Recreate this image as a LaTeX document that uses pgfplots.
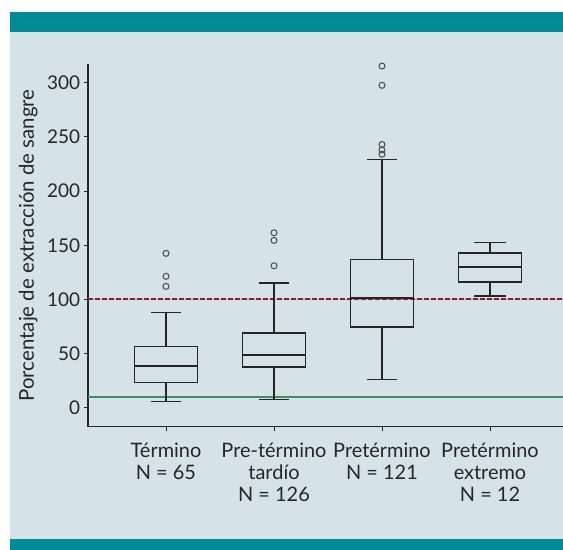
\documentclass[border=0pt]{standalone}
\usepackage{pgfplots}
\pgfplotsset{compat=1.18}
\usepgfplotslibrary{statistics}
\usepackage{fontspec}
\setmainfont{Lato}
\definecolor{bandteal}{HTML}{008B96}
\definecolor{panel}{HTML}{D5E2E7}
\definecolor{refred}{HTML}{8B1E2B}
\definecolor{refpink}{HTML}{E8A0A8}
\definecolor{refgreen}{HTML}{3E8E62}
\definecolor{boxc}{HTML}{262626}
\definecolor{outc}{HTML}{4A4A4A}
\pgfplotsset{
  mybox/.style={boxc, line width=1.25pt, solid, mark=o, mark size=3bp,
    mark options={outc, line width=1pt},
    boxplot/every median/.style={draw=boxc, line width=1.8pt}},
}
\begin{document}
\begin{tikzpicture}[x=1bp,y=1bp]
\useasboundingbox (0,0) rectangle (563,550);
\fill[white] (0,0) rectangle (563,550);
\fill[panel] (10,0) rectangle (563,538);
\fill[bandteal] (10,518) rectangle (563,538);
\fill[bandteal] (10,0) rectangle (563,11);
\begin{axis}[
  at={(88bp,123.3bp)}, anchor=south west,
  scale only axis, width=475bp, height=362.7bp,
  xmin=0.278, xmax=4.676, ymin=-17.5, ymax=317.3,
  axis x line*=bottom, axis y line*=left,
  axis line style={-, boxc, line width=1.2pt},
  tick align=outside, major tick length=4.5bp,
  tick style={boxc, line width=0.8pt},
  xtick={1,2,3,4},
  xticklabels={{Término\\N = 65},{Pre-término\\tardío\\N = 126},{Pretérmino\\N = 121},{Pretérmino\\extremo\\N = 12}},
  xticklabel style={align=center, font=\fontsize{20}{22.3}\selectfont, text=boxc, yshift=-8bp},
  ytick={0,50,...,300},
  yticklabel style={font=\fontsize{19}{21}\selectfont, text=boxc},
  /pgf/number format/assume math mode=true,
  ylabel={Porcentaje de extracción de sangre},
  ylabel style={at={(axis description cs:-0.126,0.5)}, anchor=center, font=\fontsize{20.5}{22}\selectfont, text=boxc},
  boxplot/draw direction=y,
]
\addplot[refpink, line width=0.8pt, forget plot] coordinates {(0.278,100) (4.676,100)};
\addplot[refred, line width=2pt, dash pattern=on 4.5bp off 2.5bp, forget plot] coordinates {(0.278,100) (4.676,100)};
\addplot[refgreen, line width=1.6pt, forget plot] coordinates {(0.278,10) (4.676,10)};

\addplot[mybox,
  boxplot prepared={draw position=1, lower whisker=5.5, lower quartile=23.4, median=38.2, upper quartile=56.3, upper whisker=88, box extend=0.58, whisker extend=0.27}]
  table[row sep=\\, y index=0] {data\\ 142.5\\ 121.3\\ 112\\};
\addplot[mybox,
  boxplot prepared={draw position=2, lower whisker=7.7, lower quartile=37.6, median=48.4, upper quartile=69, upper whisker=115.1, box extend=0.58, whisker extend=0.27}]
  table[row sep=\\, y index=0] {data\\ 131\\ 154.5\\ 161.5\\};
\addplot[mybox,
  boxplot prepared={draw position=3, lower whisker=25.9, lower quartile=74.5, median=101, upper quartile=137, upper whisker=229.3, box extend=0.58, whisker extend=0.27}]
  table[row sep=\\, y index=0] {data\\ 234\\ 237.9\\ 243\\ 297.6\\ 315.4\\};
\addplot[mybox,
  boxplot prepared={draw position=4, lower whisker=103.1, lower quartile=116, median=129.9, upper quartile=142.8, upper whisker=152.7, box extend=0.58, whisker extend=0.29}]
  coordinates {};
\end{axis}
\end{tikzpicture}
\end{document}
